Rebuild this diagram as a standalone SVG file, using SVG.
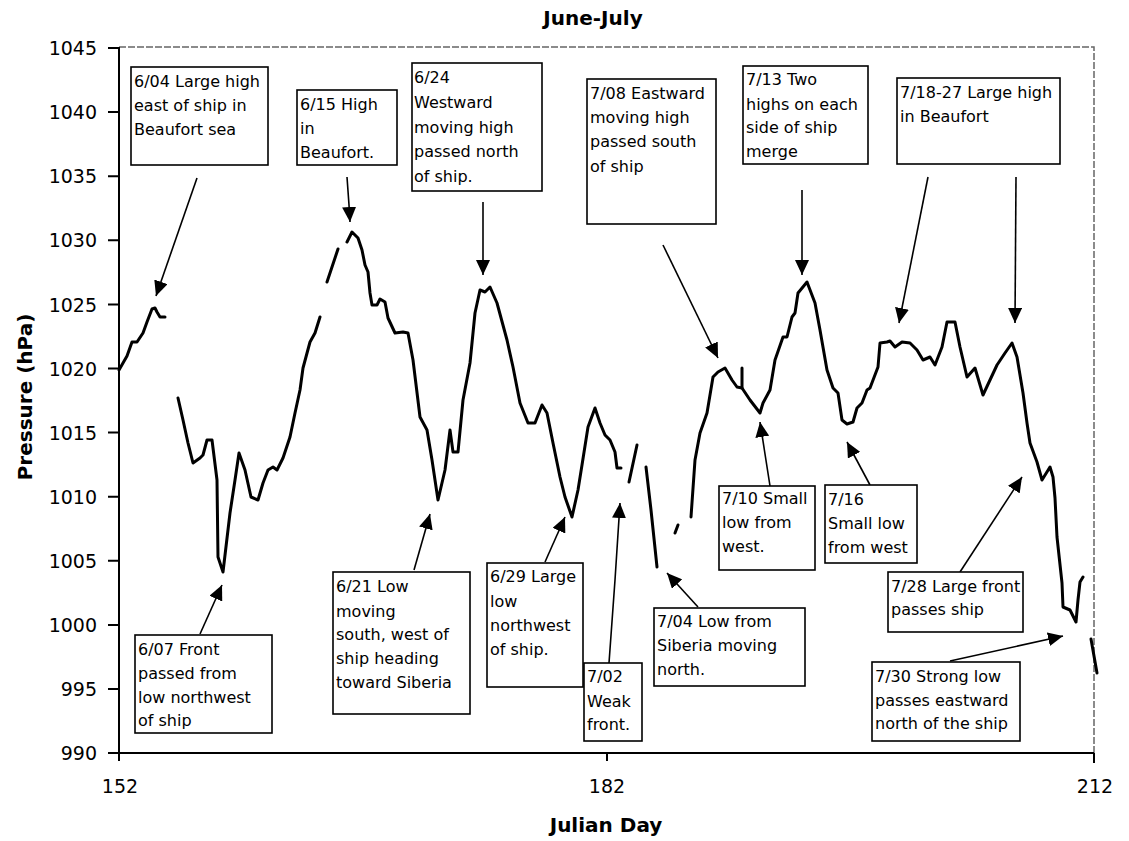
<svg xmlns="http://www.w3.org/2000/svg" width="1129" height="841" viewBox="0 0 1129 841">
<style>
  .ax { stroke:#000; stroke-width:2; fill:none; }
  .fr { stroke:#666; stroke-width:1.5; stroke-dasharray:7 2; fill:none; }
  .tk { font-family:"DejaVu Sans", sans-serif; font-size:19px; fill:#000; }
  .tt { font-family:"DejaVu Sans", sans-serif; font-size:20px; font-weight:bold; fill:#000; }
  .box rect { fill:#fff; stroke:#000; stroke-width:1.6; }
  .box text { font-family:"DejaVu Sans", sans-serif; font-size:16px; fill:#000; }
  .data { stroke:#000; stroke-width:3; fill:none; stroke-linejoin:round; stroke-linecap:round; }
  .cn path { stroke:#000; stroke-width:1.6; fill:none; marker-end:url(#ah); }
</style>
<defs>
  <marker id="ah" markerUnits="userSpaceOnUse" markerWidth="16" markerHeight="14" refX="15" refY="7" orient="auto">
    <path d="M0,0 L15,7 L0,14 z" fill="#000"/>
  </marker>
</defs>
<rect width="1129" height="841" fill="#fff"/>

<text class="tt" x="593" y="25" text-anchor="middle">June-July</text>
<text class="tt" x="606" y="832" text-anchor="middle">Julian Day</text>
<text class="tt" transform="translate(32,397) rotate(-90)" text-anchor="middle">Pressure (hPa)</text>

<g id="axes">
  <path class="fr" d="M119,47 H1094 V753"/>
  <path class="ax" d="M119,47 V753 H1094"/>
  <path class="ax" d="M108,48 H119 M108,112.1 H119 M108,176.2 H119 M108,240.3 H119 M108,304.4 H119 M108,368.5 H119 M108,432.6 H119 M108,496.7 H119 M108,560.8 H119 M108,624.9 H119 M108,689 H119 M108,753 H119 M119,753 V761 M607,753 V761 M1094,753 V763"/>
  <g class="tk" text-anchor="end">
    <text x="97" y="55">1045</text>
    <text x="97" y="119">1040</text>
    <text x="97" y="183">1035</text>
    <text x="97" y="247">1030</text>
    <text x="97" y="312">1025</text>
    <text x="97" y="376">1020</text>
    <text x="97" y="440">1015</text>
    <text x="97" y="504">1010</text>
    <text x="97" y="568">1005</text>
    <text x="97" y="632">1000</text>
    <text x="97" y="696">995</text>
    <text x="97" y="760">990</text>
  </g>
  <g class="tk" text-anchor="middle">
    <text x="120" y="793">152</text>
    <text x="607" y="793">182</text>
    <text x="1095" y="793">212</text>
  </g>
</g>

<g id="pressure-series">
  <path class="data" d="M119,370 L127,356 L132,342 L137,342 L143,333 L147,322 L152,309 L155,308 L157,312 L160,317 L165,317"/>
  <path class="data" d="M178,398 L183,420 L188,443 L193,463 L200,458 L203,455 L207,440 L212,440 L217,480 L218,557 L223,572 L230,513 L235,480 L239,453 L245,470 L251,497 L258,500 L263,483 L268,470 L273,467 L277,470 L283,458 L290,437 L295,413 L300,390 L303,368 L310,342 L315,333 L320,317"/>
  <path class="data" d="M327,282 L338,249"/>
  <path class="data" d="M347,242 L352,232 L358,238 L362,250 L365,265 L368,272 L370,293 L372,305 L377,305 L380,299 L385,302 L388,318 L395,333 L403,332 L408,333 L413,360 L420,417 L427,430 L432,460 L438,500 L445,470 L450,430 L453,452 L458,452 L463,400 L470,363 L475,313 L480,290 L485,292 L490,287 L497,303 L507,340 L513,367 L520,403 L528,423 L535,423 L542,405 L547,413 L553,443 L560,477 L565,497 L572,517 L578,490 L582,465 L588,427 L595,408 L600,423 L605,435 L610,440 L615,452 L617,468 L621,468"/>
  <path class="data" d="M637,445 L629,482"/>
  <path class="data" d="M646,467 L651,510 L657,567"/>
  <path class="data" d="M678,525 L675,533"/>
  <path class="data" d="M691,517 L695,460 L700,433 L707,413 L713,377 L718,372 L725,368 L732,380 L737,387 L742,388 L750,400 L760,413 L763,403 L770,390 L775,360 L783,337 L787,337 L792,317 L795,313 L798,293 L807,282 L815,303 L820,330 L827,370 L833,388 L838,393 L842,420 L847,424 L853,422 L857,408 L862,403 L867,390 L870,388 L878,367 L880,343 L887,342 L890,341 L895,347 L902,342 L910,343 L917,350 L923,360 L930,357 L935,365 L942,347 L947,322 L955,322 L960,347 L967,377 L975,368 L983,395 L990,380 L997,365 L1005,353 L1012,343 L1017,357 L1023,393 L1027,423 L1030,443 L1037,462 L1042,480 L1050,467 L1053,477 L1055,498 L1057,537 L1062,583 L1063,607 L1070,610 L1076,622 L1078,600 L1080,582 L1083,577"/>
  <path class="data" d="M742,368 L742,388" stroke-width="2"/>
  <path class="data" d="M1091,639 L1097,673"/>
</g>

<g id="connectors" class="cn">
  <path d="M197,178 L156,296"/>
  <path d="M347,177 L349,205 L350,222"/>
  <path d="M483,202 L483,275"/>
  <path d="M663,245 L718,358"/>
  <path d="M802,190 L802,275"/>
  <path d="M928,177 L899,323"/>
  <path d="M1016,177 L1015,323"/>
  <path d="M200,634 L222,585"/>
  <path d="M414,570 L430,514"/>
  <path d="M545,562 L565,517"/>
  <path d="M609,663 L615,580 L620,503"/>
  <path d="M698,607 L667,573"/>
  <path d="M770,486 L760,422"/>
  <path d="M870,485 L847,442"/>
  <path d="M960,572 L1022,477"/>
  <path d="M950,661 L1063,636"/>
</g>

<g id="n-0604" class="box">
  <rect x="131" y="67" width="137" height="98"/>
  <text x="134" y="87">6/04 Large high</text>
  <text x="134" y="111">east of ship in</text>
  <text x="134" y="135">Beaufort sea</text>
</g>
<g id="n-0615" class="box">
  <rect x="297" y="90" width="100" height="75"/>
  <text x="300" y="110">6/15 High</text>
  <text x="300" y="134">in</text>
  <text x="300" y="158">Beaufort.</text>
</g>
<g id="n-0624" class="box">
  <rect x="412" y="63" width="130" height="128"/>
  <text x="414" y="83">6/24</text>
  <text x="414" y="108">Westward</text>
  <text x="414" y="133">moving high</text>
  <text x="414" y="157">passed north</text>
  <text x="414" y="182">of ship.</text>
</g>
<g id="n-0708" class="box">
  <rect x="587" y="79" width="129" height="145"/>
  <text x="590" y="99">7/08 Eastward</text>
  <text x="590" y="123">moving high</text>
  <text x="590" y="147">passed south</text>
  <text x="590" y="172">of ship</text>
</g>
<g id="n-0713" class="box">
  <rect x="743" y="66" width="125" height="98"/>
  <text x="746" y="85">7/13 Two</text>
  <text x="746" y="110">highs on each</text>
  <text x="746" y="133">side of ship</text>
  <text x="746" y="157">merge</text>
</g>
<g id="n-0718" class="box">
  <rect x="897" y="78" width="163" height="86"/>
  <text x="900" y="98">7/18-27 Large high</text>
  <text x="900" y="122">in Beaufort</text>
</g>
<g id="n-0607" class="box">
  <rect x="135" y="635" width="137" height="98"/>
  <text x="138" y="655">6/07 Front</text>
  <text x="138" y="679">passed from</text>
  <text x="138" y="703">low northwest</text>
  <text x="138" y="726">of ship</text>
</g>
<g id="n-0621" class="box">
  <rect x="333" y="572" width="137" height="142"/>
  <text x="336" y="592">6/21 Low</text>
  <text x="336" y="617">moving</text>
  <text x="336" y="640">south, west of</text>
  <text x="336" y="664">ship heading</text>
  <text x="336" y="688">toward Siberia</text>
</g>
<g id="n-0629" class="box">
  <rect x="487" y="563" width="96" height="124"/>
  <text x="490" y="582">6/29 Large</text>
  <text x="490" y="607">low</text>
  <text x="490" y="631">northwest</text>
  <text x="490" y="655">of ship.</text>
</g>
<g id="n-0702" class="box">
  <rect x="584" y="663" width="58" height="78"/>
  <text x="587" y="682">7/02</text>
  <text x="587" y="707">Weak</text>
  <text x="587" y="730">front.</text>
</g>
<g id="n-0704" class="box">
  <rect x="654" y="608" width="151" height="78"/>
  <text x="657" y="627">7/04 Low from</text>
  <text x="657" y="651">Siberia moving</text>
  <text x="657" y="675">north.</text>
</g>
<g id="n-0710" class="box">
  <rect x="719" y="486" width="96" height="84"/>
  <text x="722" y="504">7/10 Small</text>
  <text x="722" y="528">low from</text>
  <text x="722" y="552">west.</text>
</g>
<g id="n-0716" class="box">
  <rect x="825" y="485" width="92" height="78"/>
  <text x="828" y="505">7/16</text>
  <text x="828" y="529">Small low</text>
  <text x="828" y="553">from west</text>
</g>
<g id="n-0728" class="box">
  <rect x="888" y="572" width="135" height="60"/>
  <text x="891" y="592">7/28 Large front</text>
  <text x="891" y="615">passes ship</text>
</g>
<g id="n-0730" class="box">
  <rect x="872" y="662" width="148" height="79"/>
  <text x="875" y="682">7/30 Strong low</text>
  <text x="875" y="706">passes eastward</text>
  <text x="875" y="729">north of the ship</text>
</g>
</svg>
